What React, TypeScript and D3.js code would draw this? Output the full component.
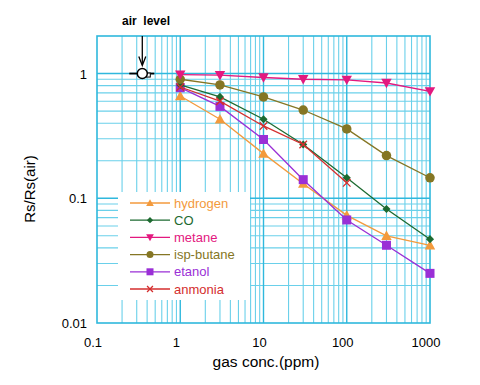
import React, { useEffect, useRef } from "react";
import * as d3 from "d3";

// gas concentration (ppm) for every series
const conc = [1, 3, 10, 30, 100, 300, 1000];

const hydrogen = [0.66, 0.43, 0.228, 0.131, 0.073, 0.05, 0.042];
const co = [0.81, 0.65, 0.43, 0.27, 0.146, 0.082, 0.047];
const metane = [0.98, 0.97, 0.93, 0.9, 0.89, 0.84, 0.72];
const ispButane = [0.9, 0.81, 0.65, 0.51, 0.36, 0.22, 0.146];
const etanol = [0.77, 0.545, 0.296, 0.141, 0.067, 0.042, 0.025];
const anmoniaConc = [1, 3, 10, 30, 100];
const anmonia = [0.78, 0.6, 0.38, 0.27, 0.133];

const xTicks = [0.1, 1, 10, 100, 1000];
const xTickLabels = ["0.1", "1", "10", "100", "1000"];
const yTicks = [0.01, 0.1, 1];
const yTickLabels = ["0.01", "0.1", "1"];

const airLevel = { x: 0.35, y: 1 };

type Series = { name: string; color: string; marker: string; xs: number[]; ys: number[] };

const series: Series[] = [
  { name: "hydrogen", color: "#f39a3c", marker: "tri-up", xs: conc, ys: hydrogen },
  { name: "CO", color: "#1d6a30", marker: "diamond", xs: conc, ys: co },
  { name: "metane", color: "#e3197f", marker: "tri-down", xs: conc, ys: metane },
  { name: "isp-butane", color: "#857624", marker: "circle", xs: conc, ys: ispButane },
  { name: "etanol", color: "#9a2fd6", marker: "square", xs: conc, ys: etanol },
  { name: "anmonia", color: "#d42e2e", marker: "cross", xs: anmoniaConc, ys: anmonia },
];

const drawOrder = ["hydrogen", "etanol", "CO", "isp-butane", "anmonia", "metane"];

const font = "'Liberation Sans', Arial, sans-serif";

const drawMarker = (g: any, kind: string, cx: number, cy: number, s: number, color: string) => {
  if (kind === "circle") {
    g.append("circle").attr("cx", cx).attr("cy", cy).attr("r", s * 0.5).attr("fill", color);
  } else if (kind === "square") {
    g.append("rect")
      .attr("x", cx - s / 2).attr("y", cy - s / 2)
      .attr("width", s).attr("height", s).attr("fill", color);
  } else if (kind === "diamond") {
    const h = s * 0.45;
    g.append("path")
      .attr("d", `M${cx},${cy - h}L${cx + h},${cy}L${cx},${cy + h}L${cx - h},${cy}Z`)
      .attr("fill", color);
  } else if (kind === "tri-up") {
    const h = s * 0.55;
    g.append("path")
      .attr("d", `M${cx},${cy - h}L${cx + h},${cy + h * 0.8}L${cx - h},${cy + h * 0.8}Z`)
      .attr("fill", color);
  } else if (kind === "tri-down") {
    const h = s * 0.55;
    g.append("path")
      .attr("d", `M${cx},${cy + h}L${cx + h},${cy - h * 0.8}L${cx - h},${cy - h * 0.8}Z`)
      .attr("fill", color);
  } else if (kind === "cross") {
    const h = s * 0.42;
    g.append("path")
      .attr("d", `M${cx - h},${cy - h}L${cx + h},${cy + h}M${cx - h},${cy + h}L${cx + h},${cy - h}`)
      .attr("stroke", color).attr("stroke-width", 1.3).attr("fill", "none");
  }
};

const Chart = () => {
  const ref = useRef<SVGSVGElement>(null);

  useEffect(() => {
    const svg = d3.select(ref.current);
    svg.selectAll("*").remove();

    const margin = { left: 97, right: 50, top: 36, bottom: 62 };
    const width = 480;
    const height = 385;

    const x = d3.scaleLog().domain([0.1, 1000]).range([margin.left, width - margin.right]);
    const y = d3.scaleLog().domain([0.01, 2]).range([height - margin.bottom, margin.top]);

    const gridColor = "#6ad0ea";
    const majorColor = "#2fb8dd";

    // minor grid values
    const minorX: number[] = [];
    [0.1, 1, 10, 100].forEach((d) => {
      for (let k = 2; k <= 9; k++) minorX.push(d * k);
    });
    const minorY: number[] = [];
    [0.01, 0.1].forEach((d) => {
      for (let k = 2; k <= 9; k++) minorY.push(d * k);
    });

    const grid = svg.append("g");
    grid.selectAll(".vx")
      .data(minorX)
      .enter()
      .append("line")
      .attr("x1", (d) => x(d)).attr("x2", (d) => x(d))
      .attr("y1", y(0.01)).attr("y2", y(2))
      .attr("stroke", gridColor).attr("stroke-width", 1.1);
    grid.selectAll(".hy")
      .data(minorY)
      .enter()
      .append("line")
      .attr("x1", x(0.1)).attr("x2", x(1000))
      .attr("y1", (d) => y(d)).attr("y2", (d) => y(d))
      .attr("stroke", gridColor).attr("stroke-width", 1.1);
    grid.selectAll(".mx")
      .data([1, 10, 100])
      .enter()
      .append("line")
      .attr("x1", (d) => x(d)).attr("x2", (d) => x(d))
      .attr("y1", y(0.01)).attr("y2", y(2))
      .attr("stroke", majorColor).attr("stroke-width", 1.4);
    grid.selectAll(".my")
      .data([0.1, 1])
      .enter()
      .append("line")
      .attr("x1", x(0.1)).attr("x2", x(1000))
      .attr("y1", (d) => y(d)).attr("y2", (d) => y(d))
      .attr("stroke", majorColor).attr("stroke-width", 1.4);

    // legend background hides the grid behind it
    const lx = 118;
    const ly = 192;
    svg.append("rect")
      .attr("x", lx).attr("y", ly).attr("width", 132).attr("height", 108)
      .attr("fill", "#fff");

    // frame
    svg.append("rect")
      .attr("x", x(0.1)).attr("y", y(2))
      .attr("width", x(1000) - x(0.1)).attr("height", y(0.01) - y(2))
      .attr("fill", "none").attr("stroke", majorColor).attr("stroke-width", 1.6);

    // tick labels
    svg.append("g")
      .selectAll("text")
      .data(xTicks)
      .enter()
      .append("text")
      .attr("x", (d) => x(d) - 4)
      .attr("y", 347)
      .attr("text-anchor", "middle")
      .attr("font-family", font).attr("font-size", 13)
      .text((_, i) => xTickLabels[i]);
    svg.append("g")
      .selectAll("text")
      .data(yTicks)
      .enter()
      .append("text")
      .attr("x", 87)
      .attr("y", (d) => y(d) + 5)
      .attr("text-anchor", "end")
      .attr("font-family", font).attr("font-size", 13)
      .text((_, i) => yTickLabels[i]);

    svg.append("text")
      .attr("x", 266).attr("y", 367)
      .attr("text-anchor", "middle")
      .attr("font-family", font).attr("font-size", 15.5)
      .text("gas conc.(ppm)");
    svg.append("text")
      .attr("transform", "translate(35,189) rotate(-90)")
      .attr("text-anchor", "middle")
      .attr("font-family", font).attr("font-size", 15)
      .text("Rs/Rs(air)");

    // series
    const line = d3.line<[number, number]>().x((d) => x(d[0])).y((d) => y(d[1]));
    drawOrder.forEach((name) => {
      const s = series.find((d) => d.name === name)!;
      const pts = s.xs.map((v, i) => [v, s.ys[i]] as [number, number]);
      const g = svg.append("g");
      g.append("path")
        .attr("d", line(pts))
        .attr("fill", "none").attr("stroke", s.color).attr("stroke-width", 1.3);
      const size = s.marker === "circle" || s.marker.startsWith("tri") ? 9.5 : 9;
      pts.forEach((p) => drawMarker(g, s.marker, x(p[0]), y(p[1]), size, s.color));
    });

    // legend
    series.forEach((s, i) => {
      const g = svg.append("g");
      const yy = 203 + i * 17.2;
      g.append("line")
        .attr("x1", 130).attr("x2", 170).attr("y1", yy).attr("y2", yy)
        .attr("stroke", s.color).attr("stroke-width", 1.3);
      drawMarker(g, s.marker, 150, yy, 7, s.color);
      g.append("text")
        .attr("x", 174).attr("y", yy + 4.5)
        .attr("font-family", font).attr("font-size", 13)
        .attr("fill", s.color)
        .text(s.name);
    });

    // air level marker
    const ax = x(airLevel.x);
    const ay = y(airLevel.y);
    svg.append("text")
      .attr("x", 146).attr("y", 25)
      .attr("text-anchor", "middle")
      .attr("font-family", font).attr("font-size", 12).attr("font-weight", "bold")
      .style("white-space", "pre")
      .text("air  level");
    svg.append("line")
      .attr("x1", ax).attr("x2", ax).attr("y1", 36).attr("y2", ay - 9)
      .attr("stroke", "#000").attr("stroke-width", 1.3);
    svg.append("path")
      .attr("d", `M${ax - 3.5},${ay - 17}L${ax},${ay - 8}L${ax + 3.5},${ay - 17}`)
      .attr("fill", "none").attr("stroke", "#000").attr("stroke-width", 1.3);
    svg.append("line")
      .attr("x1", ax - 13).attr("x2", ax + 12).attr("y1", ay).attr("y2", ay)
      .attr("stroke", "#000").attr("stroke-width", 1.8);
    svg.append("rect")
      .attr("x", ax + 4).attr("y", ay - 0.5).attr("width", 4).attr("height", 4)
      .attr("fill", "#fff").attr("stroke", "#000").attr("stroke-width", 1);
    svg.append("circle")
      .attr("cx", ax).attr("cy", ay).attr("r", 5)
      .attr("fill", "#fff").attr("stroke", "#000").attr("stroke-width", 1.5);
  }, []);

  return <svg ref={ref} width={480} height={385} style={{ display: "block" }} />;
};

const App = () => (
  <div style={{ position: "absolute", left: 0, top: 0, background: "#fff" }}>
    <Chart />
  </div>
);

export default App;
